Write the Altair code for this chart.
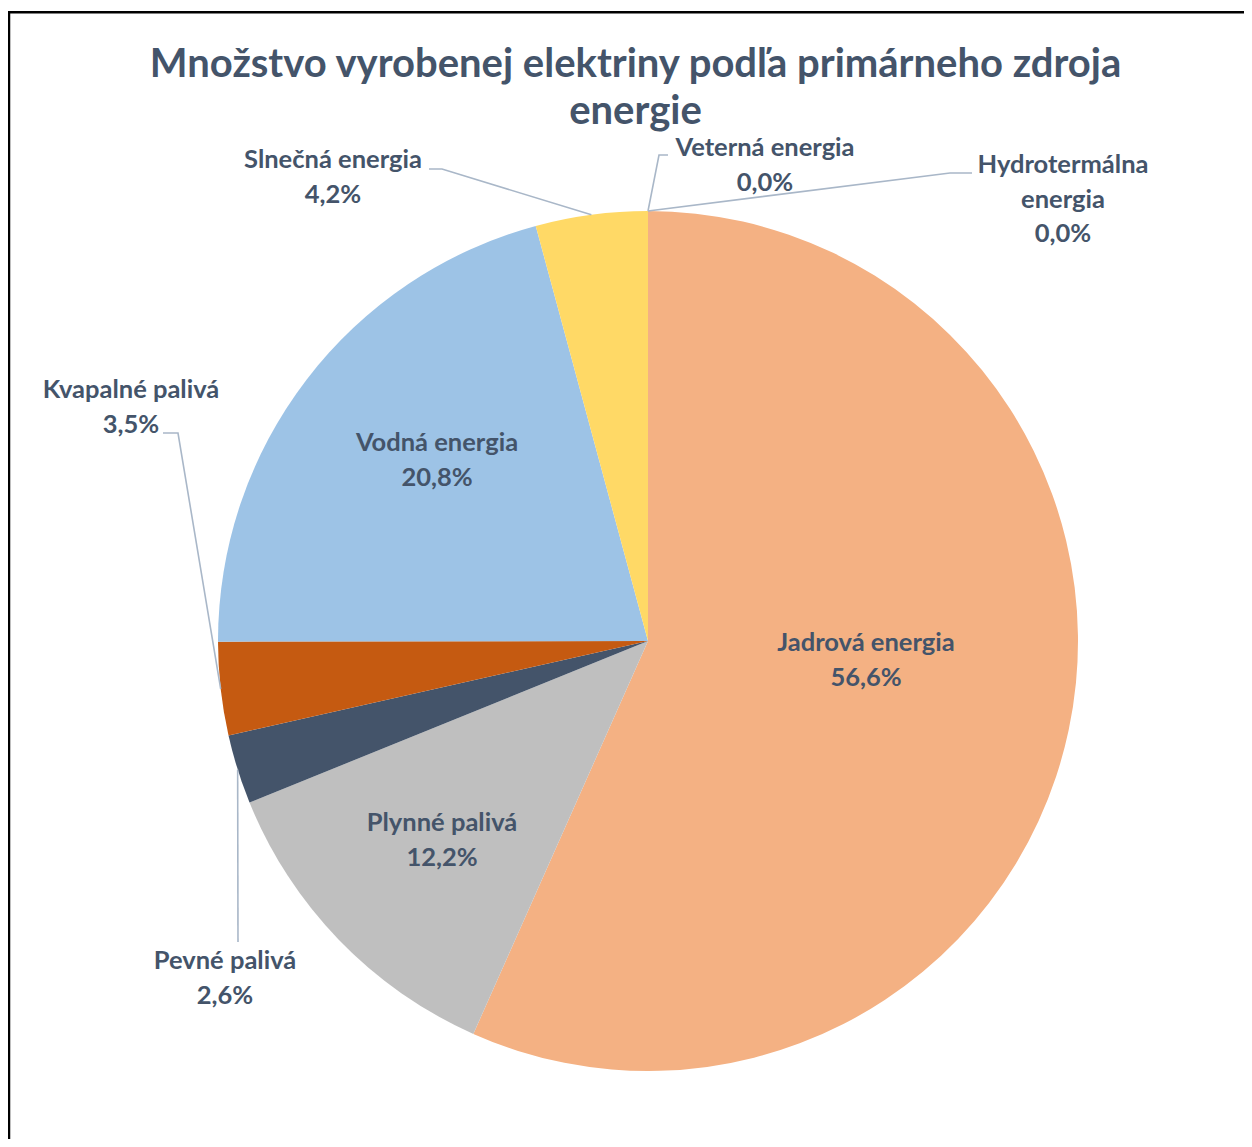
import math
import altair as alt
import pandas as pd

# ---------------- data ----------------
categories = ["Jadrová energia", "Plynné palivá", "Pevné palivá", "Kvapalné palivá",
              "Vodná energia", "Slnečná energia", "Veterná energia", "Hydrotermálna energia"]
shares = [56.6, 12.2, 2.6, 3.5, 20.8, 4.2, 0.0, 0.0]
pct_text = ["56,6%", "12,2%", "2,6%", "3,5%", "20,8%", "4,2%", "0,0%", "0,0%"]
label_names = ["Jadrová energia", "Plynné palivá", "Pevné palivá", "Kvapalné palivá",
               "Vodná energia", "Slnečná energia", "Veterná energia", "Hydrotermálna\nenergia"]
colors = ["#F4B183", "#BFBFBF", "#44546A", "#C55A11", "#9DC3E6", "#FFD966", "#A9D18E", "#264478"]
title_lines = ["Množstvo vyrobenej elektriny podľa primárneho zdroja", "energie"]

# ---------------- layout ----------------
W, H = 1236, 1131          # plot area (page offset 8px)
CX, CY = 640, 633          # pie centre in plot pixels
R = 430                    # pie radius
TEXT = "#44546A"
LEADER = "#A9B7C8"
FONT = "Lato"

# label anchor (centre x, first-line baseline) as offsets from pie centre, y up
label_pos = {
    "Jadrová energia": (218, -10),
    "Plynné palivá": (-206, -190),
    "Pevné palivá": (-423, -328),
    "Kvapalné palivá": (-517, 243),
    "Vodná energia": (-211, 190),
    "Slnečná energia": (-315, 473),
    "Veterná energia": (117, 485),
    "Hydrotermálna energia": (415, 468),
}
# leader lines: label-side start and elbow points (offsets from centre, y up)
leader_pts = {
    "Pevné palivá": [(-410, -301), (-410, -301)],
    "Kvapalné palivá": [(-485, 208), (-470, 208)],
    "Slnečná energia": [(-219, 472), (-206, 472)],
    "Veterná energia": [(20, 486), (11, 486)],
    "Hydrotermálna energia": [(324, 468), (302, 468)],
}

xs = alt.Scale(domain=[-CX, W - CX], range=[0, W], nice=False, zero=False)
ys = alt.Scale(domain=[-(H - CY), CY], range=[H, 0], nice=False, zero=False)

# ---------------- tables ----------------
pie_df = pd.DataFrame({"cat": categories, "share": shares, "idx": list(range(len(categories)))})

total = sum(shares)
cum = 0.0
mids = {}
for c, s in zip(categories, shares):
    mids[c] = 2 * math.pi * (cum + s / 2) / total
    cum += s

lab_rows = []
for c, n, p in zip(categories, label_names, pct_text):
    lx, ly = label_pos[c]
    lab_rows.append({"cat": c, "lx": lx, "ly": ly, "txt": n + "\n" + p})
lab_df = pd.DataFrame(lab_rows)

line_rows = []
for c, pts in leader_pts.items():
    a = mids[c]
    allpts = pts + [(R * math.sin(a), R * math.cos(a))]
    for k, (px, py) in enumerate(allpts):
        line_rows.append({"cat": c, "k": k, "px": px, "py": py})
line_df = pd.DataFrame(line_rows)

title_df = pd.DataFrame({"t": ["\n".join(title_lines)], "tx": [-12.5], "ty": [564]})

# ---------------- marks ----------------
pie = alt.Chart(pie_df).mark_arc(outerRadius=R).encode(
    theta=alt.Theta("share:Q", stack=True),
    color=alt.Color("cat:N", scale=alt.Scale(domain=categories, range=colors), legend=None),
    order=alt.Order("idx:Q"),
    x=alt.value(CX),
    y=alt.value(CY),
)

leaders = alt.Chart(line_df).mark_line(color=LEADER, strokeWidth=1.6).encode(
    x=alt.X("px:Q", scale=xs, axis=None),
    y=alt.Y("py:Q", scale=ys, axis=None),
    detail="cat:N",
    order="k:Q",
)

labels = alt.Chart(lab_df).mark_text(
    font=FONT, fontWeight="bold", fontSize=25.5, color=TEXT,
    align="center", baseline="alphabetic", lineBreak="\n", lineHeight=34.5,
).encode(
    x=alt.X("lx:Q", scale=xs, axis=None),
    y=alt.Y("ly:Q", scale=ys, axis=None),
    text="txt:N",
)

title = alt.Chart(title_df).mark_text(
    font=FONT, fontWeight="bold", fontSize=40, color=TEXT,
    align="center", baseline="alphabetic", lineBreak="\n", lineHeight=47,
).encode(
    x=alt.X("tx:Q", scale=xs, axis=None),
    y=alt.Y("ty:Q", scale=ys, axis=None),
    text="t:N",
)

frame_top = alt.Chart(pd.DataFrame({"a": [0]})).mark_rule(color="black", strokeWidth=2.5).encode(
    x=alt.value(0), x2=alt.value(W + 20), y=alt.value(4.3)
)
frame_left = alt.Chart(pd.DataFrame({"a": [0]})).mark_rule(color="black", strokeWidth=2.5).encode(
    x=alt.value(1), y=alt.value(3), y2=alt.value(H + 20)
)

chart = alt.layer(pie, leaders, labels, title, frame_top, frame_left).properties(
    width=W, height=H, padding=0,
    autosize=alt.AutoSizeParams(type="none"),
    background="white",
).configure_view(stroke=None)

chart.save("out.html", embed_options={"renderer": "svg", "actions": False})
